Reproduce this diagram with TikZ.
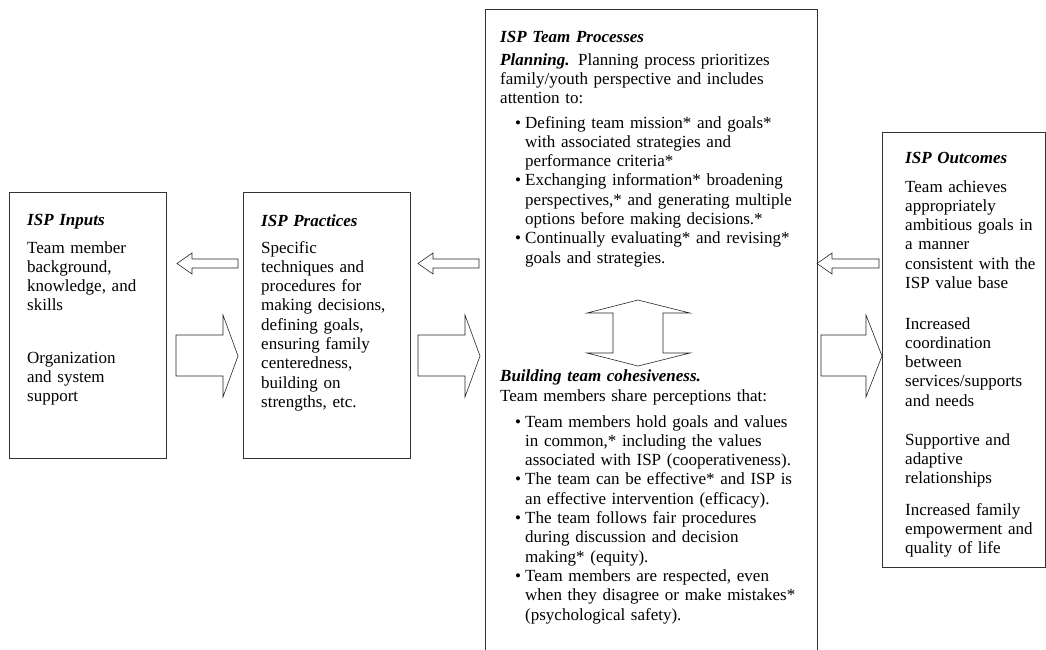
\documentclass[tikz,border=0pt]{standalone}
\usepackage{fontspec}
\setmainfont{Liberation Serif}

\tikzset{
  box/.style={draw=black!80, line width=0.8pt, inner sep=0pt, anchor=north west},
  txt/.style={anchor=base west, inner sep=0pt, align=left, text width=300pt,
              font=\fontsize{17}{19.3}\selectfont},
  ttl/.style={txt, font=\fontsize{17}{19.3}\selectfont\bfseries\itshape},
  barrow/.style={draw=black!85, line width=0.6pt, line join=miter},
}
\newcommand\bul{\makebox[10pt][l]{\textbullet}}
\newcommand\ind{\hspace*{10pt}}

\begin{document}
\begin{tikzpicture}[x=1pt, y=-1pt]
\useasboundingbox (0,0) rectangle (1046,649);

% boxes
\node[box, minimum width=157, minimum height=266] (inputs)    at (9,192)   {};
\node[box, minimum width=167, minimum height=266] (practices) at (243,192) {};
\node[box, draw=none, minimum width=332, minimum height=640] (team) at (485,9) {};
\draw[draw=black!80, line width=0.8pt]
     (team.south west) -- (team.north west) -- (team.north east) -- (team.south east);
\node[box, minimum width=163, minimum height=435] (outcomes)  at (882,132) {};

% inputs
\node[ttl] (inp-title) at (27,225) {ISP Inputs};
\node[txt] (inp-a) at (27,253) {Team member\\ background,\\ knowledge, and\\ skills};
\node[txt] (inp-b) at (27,363) {Organization\\ and system\\ support};

% practices
\node[ttl] (prc-title) at (261,226) {ISP Practices};
\node[txt] (prc-a) at (261,253) {Specific\\ techniques and\\ procedures for\\
  making decisions,\\ defining goals,\\ ensuring family\\ centeredness,\\
  building on\\ strengths, etc.};

% team processes
\node[ttl] (tp-title) at (500,42) {ISP Team Processes};
\node[txt] (tp-plan) at (500,65) {\textbf{\textit{Planning.}} Planning process prioritizes\\
  family/youth perspective and includes\\ attention to:};
\node[txt] (tp-planlist) at (515,128) {\bul Defining team mission* and goals*\\
  \ind with associated strategies and\\
  \ind performance criteria*\\
  \bul Exchanging information* broadening\\
  \ind perspectives,* and generating multiple\\
  \ind options before making decisions.*\\
  \bul Continually evaluating* and revising*\\
  \ind goals and strategies.};
\node[ttl] (tp-cohtitle) at (500,381) {Building team cohesiveness.};
\node[txt] (tp-coh) at (500,401) {Team members share perceptions that:};
\node[txt] (tp-cohlist) at (515,427) {\bul Team members hold goals and values\\
  \ind in common,* including the values\\
  \ind associated with ISP (cooperativeness).\\
  \bul The team can be effective* and ISP is\\
  \ind an effective intervention (efficacy).\\
  \bul The team follows fair procedures\\
  \ind during discussion and decision\\
  \ind making* (equity).\\
  \bul Team members are respected, even\\
  \ind when they disagree or make mistakes*\\
  \ind (psychological safety).};

% outcomes
\node[ttl] (out-title) at (905,163) {ISP Outcomes};
\node[txt] (out-a) at (905,192) {Team achieves\\ appropriately\\ ambitious goals in\\
  a manner\\ consistent with the\\ ISP value base};
\node[txt] (out-b) at (905,329) {Increased\\ coordination\\ between\\ services/supports\\ and needs};
\node[txt] (out-c) at (905,445) {Supportive and\\ adaptive\\ relationships};
\node[txt] (out-d) at (905,515) {Increased family\\ empowerment and\\ quality of life};

% small arrows (pointing left)
\draw[barrow] (177,263.5) -- (192,253) -- (192,259) -- (238,259)
           -- (238,268) -- (192,268) -- (192,274) -- cycle;
\draw[barrow] (418,263.5) -- (433,253) -- (433,259) -- (479,259)
           -- (479,268) -- (433,268) -- (433,274) -- cycle;
\draw[barrow] (817,263.5) -- (832,253) -- (832,259) -- (879,259)
           -- (879,268) -- (832,268) -- (832,274) -- cycle;

% big arrows (pointing right)
\draw[barrow] (176,335) -- (223,335) -- (223,315) -- (238,356)
           -- (223,397) -- (223,376) -- (176,376) -- cycle;
\draw[barrow] (418,335) -- (465,335) -- (465,315) -- (480,356)
           -- (465,397) -- (465,376) -- (418,376) -- cycle;
\draw[barrow] (821,335) -- (866,335) -- (866,315) -- (882,356)
           -- (866,397) -- (866,376) -- (821,376) -- cycle;

% planning <-> cohesiveness
\draw[barrow] (638,300) -- (690,313) -- (663,313) -- (663,353) -- (690,353)
           -- (638,366) -- (587,353) -- (613,353) -- (613,313) -- (587,313) -- cycle;
\end{tikzpicture}
\end{document}
